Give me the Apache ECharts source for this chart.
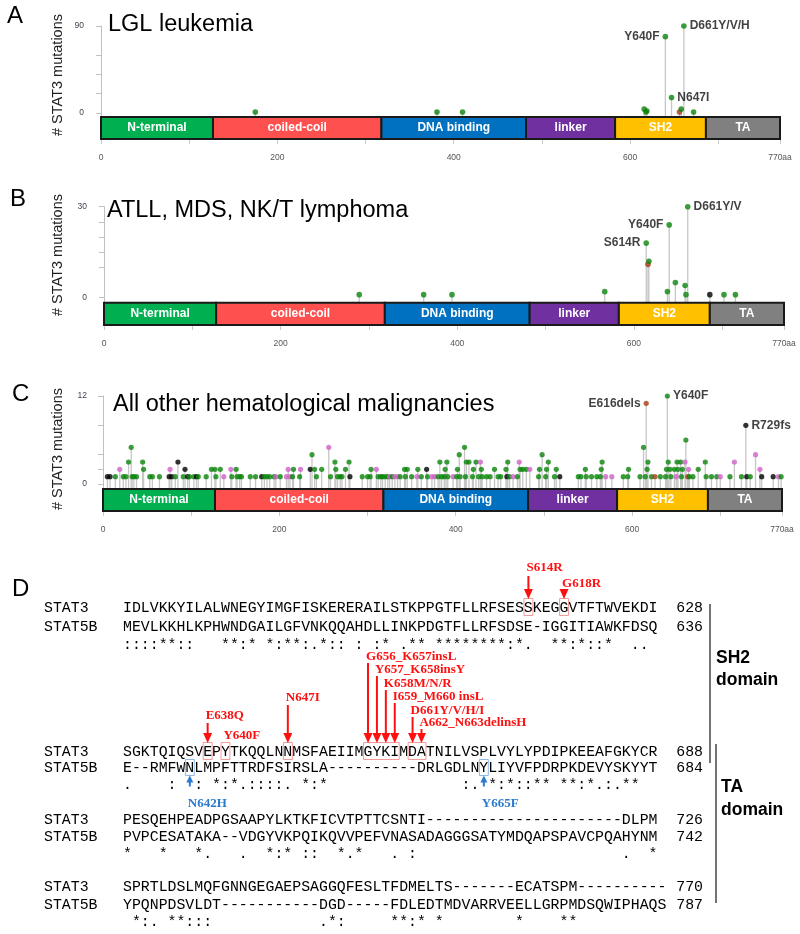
<!DOCTYPE html>
<html>
<head>
<meta charset="utf-8">
<title>STAT3 mutations</title>
<script src="https://cdn.jsdelivr.net/npm/echarts@6/dist/echarts.min.js"></script>
<style>
  html, body { margin: 0; padding: 0; background: #fff; }
  #chart { width: 800px; height: 934px; }
</style>
</head>
<body>
<div id="chart"></div>
<script>
// STAT3 protein domains (aa)
const domainNames = ["N-terminal", "coiled-coil", "DNA binding", "linker", "SH2", "TA"];
const domainStart = [0, 127, 318, 482, 583, 686];
const domainEnd = [127, 318, 482, 583, 686, 770];
const domainColors = ["#00b050", "#ff5050", "#0070c0", "#7030a0", "#ffc000", "#808080"];

// mutation classes: M missense, T truncating, I inframe, O other
const typeColors = { M: "#0a840a", T: "#000000", I: "#a83c16", O: "#d062c8" };

// panel A: LGL leukemia  [position, count, class]
const lglMutations = [
  [175, 1, "M"], [381, 1, "M"], [410, 1, "M"], [616, 4, "M"], [618, 1, "M"], [619, 2, "M"],
  [640, 79, "M"], [647, 16, "M"], [656, 1, "I"], [658, 4, "M"], [661, 90, "M"], [672, 1, "M"]
];
const lglLabels = [[640, "Y640F", "left"], [661, "D661Y/V/H", "right"], [647, "N647I", "right"]];

// panel B: ATLL, MDS, NK/T lymphoma
const atllMutations = [
  [289, 1, "M"], [362, 1, "M"], [394, 1, "M"], [567, 2, "M"], [614, 18, "M"], [616, 11, "I"],
  [617, 12, "M"], [638, 2, "M"], [640, 24, "M"], [647, 5, "M"], [658, 4, "M"], [659, 1, "M"],
  [661, 30, "M"], [686, 1, "T"], [702, 1, "M"], [715, 1, "M"]
];
const atllLabels = [[614, "S614R", "left"], [640, "Y640F", "left"], [661, "D661Y/V", "right"]];

// panel C: all other hematological malignancies
const otherMutations = [
  [5, 1, "T"], [8, 1, "T"], [14, 1, "M"], [23, 1, "M"], [26, 1, "M"], [33, 1, "M"], [35, 1, "M"], [38, 1, "M"],
  [53, 1, "M"], [56, 1, "M"], [64, 1, "M"], [75, 1, "T"], [78, 1, "T"], [82, 1, "M"], [91, 1, "M"], [96, 1, "T"],
  [98, 1, "M"], [103, 1, "M"], [106, 1, "T"], [108, 1, "M"], [117, 1, "M"], [128, 1, "M"], [137, 1, "O"],
  [146, 1, "M"], [152, 1, "M"], [155, 1, "M"], [157, 1, "M"], [167, 1, "M"], [173, 1, "M"], [180, 1, "T"],
  [183, 1, "M"], [186, 1, "M"], [189, 1, "M"], [194, 1, "M"], [196, 1, "O"], [201, 1, "M"], [208, 1, "O"],
  [212, 1, "O"], [215, 1, "M"], [223, 1, "M"], [242, 1, "M"], [258, 1, "M"], [266, 1, "M"], [269, 1, "M"],
  [271, 1, "M"], [280, 1, "T"], [294, 1, "M"], [300, 1, "M"], [303, 1, "M"], [312, 1, "M"], [315, 1, "M"],
  [317, 1, "M"], [320, 1, "M"], [323, 1, "M"], [325, 1, "O"], [328, 1, "M"], [331, 1, "O"], [334, 1, "O"],
  [337, 1, "M"], [343, 1, "M"], [350, 1, "M"], [356, 1, "O"], [361, 1, "M"], [368, 1, "M"], [373, 1, "O"],
  [376, 1, "O"], [380, 1, "M"], [384, 1, "M"], [387, 1, "M"], [391, 1, "M"], [397, 1, "O"], [401, 1, "M"],
  [405, 1, "M"], [411, 1, "M"], [419, 1, "M"], [426, 1, "M"], [430, 1, "M"], [435, 1, "M"], [439, 1, "M"],
  [448, 1, "M"], [451, 1, "M"], [458, 1, "T"], [461, 1, "M"], [465, 1, "O"], [470, 1, "M"], [494, 1, "M"],
  [502, 1, "M"], [512, 1, "M"], [518, 1, "T"], [539, 1, "M"], [542, 1, "M"], [548, 1, "M"], [554, 1, "M"],
  [560, 1, "M"], [564, 1, "M"], [570, 1, "O"], [577, 1, "O"], [590, 1, "M"], [595, 1, "M"], [609, 1, "M"],
  [615, 1, "M"], [622, 1, "M"], [626, 1, "I"], [632, 1, "M"], [638, 1, "M"], [644, 1, "M"], [650, 1, "O"],
  [656, 1, "M"], [663, 1, "I"], [665, 1, "M"], [669, 1, "M"], [684, 1, "M"], [690, 1, "M"], [696, 1, "M"],
  [700, 1, "O"], [711, 1, "M"], [724, 1, "M"], [730, 1, "T"], [734, 1, "M"], [747, 1, "T"], [760, 1, "T"],
  [766, 1, "O"], [769, 1, "M"],
  [19, 2, "O"], [46, 2, "M"], [76, 2, "O"], [93, 2, "T"], [123, 2, "M"], [127, 2, "M"], [133, 2, "M"],
  [145, 2, "O"], [151, 2, "M"], [210, 2, "O"], [216, 2, "M"], [224, 2, "O"], [235, 2, "T"], [240, 2, "M"],
  [248, 2, "M"], [264, 2, "M"], [275, 2, "M"], [304, 2, "M"], [310, 2, "O"], [342, 2, "M"], [345, 2, "M"],
  [357, 2, "M"], [367, 2, "T"], [388, 2, "M"], [402, 2, "M"], [420, 2, "M"], [429, 2, "M"], [444, 2, "M"],
  [457, 2, "M"], [473, 2, "M"], [476, 2, "M"], [480, 2, "M"], [484, 2, "O"], [495, 2, "M"], [503, 2, "M"],
  [514, 2, "M"], [547, 2, "M"], [565, 2, "M"], [596, 2, "M"], [617, 2, "M"], [639, 2, "M"], [643, 2, "M"],
  [648, 2, "M"], [652, 2, "M"], [657, 2, "M"], [664, 2, "O"], [675, 2, "M"], [745, 2, "O"],
  [29, 3, "M"], [45, 3, "M"], [85, 3, "T"], [263, 3, "M"], [279, 3, "M"], [382, 3, "M"], [390, 3, "M"],
  [412, 3, "M"], [415, 3, "M"], [423, 3, "M"], [428, 3, "O"], [459, 3, "M"], [472, 3, "O"], [505, 3, "M"],
  [566, 3, "M"], [618, 3, "M"], [641, 3, "M"], [651, 3, "M"], [655, 3, "M"], [660, 3, "O"], [683, 3, "M"],
  [716, 3, "O"],
  [237, 4, "M"], [404, 4, "M"], [498, 4, "M"], [740, 4, "O"],
  [32, 5, "M"], [256, 5, "O"], [410, 5, "M"], [613, 5, "M"],
  [661, 6, "M"], [729, 8, "T"], [616, 11, "I"], [640, 12, "M"]
];
const otherLabels = [[616, "E616dels", "left"], [640, "Y640F", "right"], [729, "R729fs", "right"]];

// panel D: STAT3 / STAT5B alignment (4 blocks)
const seqStat3 = [
  "IDLVKKYILALWNEGYIMGFISKERERAILSTKPPGTFLLRFSESSKEGGVTFTWVEKDI",
  "SGKTQIQSVEPYTKQQLNNMSFAEIIMGYKIMDATNILVSPLVYLYPDIPKEEAFGKYCR",
  "PESQEHPEADPGSAAPYLKTKFICVTPTTCSNTI----------------------DLPM",
  "SPRTLDSLMQFGNNGEGAEPSAGGQFESLTFDMELTS-------ECATSPM----------"
];
const seqStat5b = [
  "MEVLKKHLKPHWNDGAILGFVNKQQAHDLLINKPDGTFLLRFSDSE-IGGITIAWKFDSQ",
  "E--RMFWNLMPFTTRDFSIRSLA----------DRLGDLNYLIYVFPDRPKDEVYSKYYT",
  "PVPCESATAKA--VDGYVKPQIKQVVPEFVNASADAGGGSATYMDQAPSPAVCPQAHYNM",
  "YPQNPDSVLDT-----------DGD-----FDLEDTMDVARRVEELLGRPMDSQWIPHAQS"
];
const seqConsensus = [
  "::::**::   **:* *:**:.*:: : :* .** ********:*.  **:*::*  ..",
  ".    :  : *:*.::::. *:*               :. *:*::** **:*.:.**",
  "*   *   *.   .  *:* ::  *.*   . :                       .  *",
  " *:. **:::            .*:     **:* *        *    **"
];
const endStat3 = [628, 688, 726, 770];
const endStat5b = [636, 684, 742, 787];

// annotated residues: [label, block, column]
const stat3Hits = [
  ["S614R", 0, 46], ["G618R", 0, 50],
  ["E638Q", 1, 10], ["Y640F", 1, 12], ["N647I", 1, 19], ["G656_K657insL", 1, 28],
  ["Y657_K658insY", 1, 29], ["K658M/N/R", 1, 30], ["I659_M660 insL", 1, 31],
  ["D661Y/V/H/I", 1, 33], ["A662_N663delinsH", 1, 34]
];
const stat3Boxes = [[0, 46, 46], [0, 50, 50], [1, 10, 10], [1, 12, 12], [1, 19, 19], [1, 28, 31], [1, 33, 34]];
const stat5bHits = [["N642H", 1, 8], ["Y665F", 1, 41]];

// ---------- layout ----------
const SANS = '"Liberation Sans", Arial, sans-serif';
const panels = [
  { muts: lglMutations, labels: lglLabels, yMax: 90, yTicks: [0, 20, 40, 60, 90],
    left: 101, width: 679, top: 26, zeroY: 113, barTop: 117, barBottom: 139, axisOff: 9 },
  { muts: atllMutations, labels: atllLabels, yMax: 30, yTicks: [0, 10, 15, 20, 25, 30],
    left: 104, width: 680, top: 206.7, zeroY: 297.7, barTop: 302.7, barBottom: 325, axisOff: 9 },
  { muts: otherMutations, labels: otherLabels, yMax: 12, yTicks: [0, 2, 4, 8, 12],
    left: 103, width: 679, top: 396, zeroY: 484, barTop: 489, barBottom: 511, axisOff: 8 }
];
// label y for each annotation, arrow start (null = no arrow)
const hitLabelY = [568, 584, 716, 736, 698, 657, 670, 684, 697, 711, 723];
const hitArrowTop = [576, 591, 723, null, 705, 663, 676, 690, 703, 717, 729];
const blockRowY = [[608, 627, 645.5], [752, 768.5, 785.5], [820, 837, 854], [887, 905, 922.5]];

const grids = [], xAxes = [], yAxes = [], series = [];

panels.forEach((p, i) => {
  const yMin = -(p.barTop - p.zeroY) * p.yMax / (p.zeroY - p.top);
  const gl = i * 2, gd = i * 2 + 1;
  grids.push({ left: p.left, width: p.width, top: p.top, height: p.barTop - p.top });
  grids.push({ left: p.left, width: p.width, top: p.barTop, height: p.barBottom - p.barTop });

  xAxes.push({ gridIndex: gl, type: "value", min: 0, max: 770, show: false });
  xAxes.push({
    gridIndex: gd, type: "value", min: 0, max: 770, interval: 100, position: "bottom", offset: 6,
    axisLine: { lineStyle: { color: "#c8c8c8", width: 1 } },
    axisTick: { length: 5, lineStyle: { color: "#c8c8c8" } },
    axisLabel: {
      margin: 8, fontSize: 8.5, color: "#555", fontFamily: SANS,
      formatter: (v) => (v === 770 ? "770aa" : v % 200 === 0 ? String(v) : "")
    },
    splitLine: { show: false }
  });

  yAxes.push({
    gridIndex: gl, type: "value", min: yMin, max: p.yMax, position: "left", offset: p.axisOff,
    axisLine: { show: true, lineStyle: { color: "#c0c0c0" } },
    axisTick: { show: true, length: 5, customValues: p.yTicks, lineStyle: { color: "#c0c0c0" } },
    axisLabel: { customValues: [0, p.yMax], margin: 8, fontSize: 8.5, color: "#445", fontFamily: SANS },
    splitLine: { show: false }
  });
  yAxes.push({ gridIndex: gd, type: "value", min: 0, max: 1, show: false });

  // stems
  series.push({
    type: "custom", xAxisIndex: gl, yAxisIndex: gl, silent: true, z: 1, clip: false,
    data: p.muts.map((m) => [m[0], m[1]]),
    renderItem: (params, api) => {
      const top = api.coord([api.value(0), api.value(1)]);
      const base = api.coord([api.value(0), yMin]);
      return { type: "line", shape: { x1: top[0], y1: top[1], x2: base[0], y2: base[1] },
        style: { stroke: "#c6c6c6", lineWidth: 1.3 } };
    }
  });

  // heads
  series.push({
    type: "scatter", xAxisIndex: gl, yAxisIndex: gl, silent: true, z: 3, clip: false,
    symbolSize: i === 2 ? 5.2 : 5.6,
    data: p.muts.map((m) => {
      const lab = p.labels.find((l) => l[0] === m[0] && m[1] > 3);
      const item = { value: [m[0], m[1]], itemStyle: { color: typeColors[m[2]] } };
      if (lab) {
        item.label = { show: true, position: lab[2], distance: 3, formatter: lab[1],
          fontSize: 12, fontWeight: "bold", color: "#111", fontFamily: SANS };
      }
      return item;
    })
  });

  // domain bar
  series.push({
    type: "custom", xAxisIndex: gd, yAxisIndex: gd, silent: true, z: 2,
    data: domainNames.map((n, k) => [domainStart[k], domainEnd[k], k]),
    renderItem: (params, api) => {
      const k = api.value(2);
      const a = api.coord([api.value(0), 1]);
      const b = api.coord([api.value(1), 0]);
      return {
        type: "rect",
        shape: { x: a[0], y: a[1], width: b[0] - a[0], height: b[1] - a[1] },
        style: { fill: domainColors[k], stroke: "#1a1a1a", lineWidth: 2 },
        textContent: { style: { text: domainNames[k], fill: "#fff", font: "bold 12px " + SANS } },
        textConfig: { position: "inside" }
      };
    }
  });
});

// ---------- text and panel D ----------
function txt(text, x, y, font, fill, align) {
  return { type: "text", x: x, y: y, silent: true,
    style: { text: String(text), font: font, fill: fill || "#000", align: align || "left", verticalAlign: "middle" } };
}
const graphics = [];
[["A", 7, 16.5], ["B", 10, 199.5], ["C", 12, 394.5], ["D", 12, 589]].forEach((l) =>
  graphics.push(txt(l[0], l[1], l[2], "24px " + SANS)));
[["LGL leukemia", 108, 25], ["ATLL, MDS, NK/T lymphoma", 107, 211], ["All other hematological malignancies", 113, 405]]
  .forEach((t) => graphics.push(txt(t[0], t[1], t[2], "23.5px " + SANS)));
[[57.5, 75], [58, 255], [57.5, 449]].forEach((c) => {
  const e = txt("# STAT3 mutations", c[0], c[1], "14.5px " + SANS, "#222", "center");
  e.rotation = Math.PI / 2;
  graphics.push(e);
});

const MONO = '14.85px "Liberation Mono", "Courier New", monospace';
const SERIF = 'bold 13px "Liberation Serif", "Times New Roman", serif';
const colW = 8.91, seqX = 123;
const colX = (c) => seqX + (c - 0.5) * colW;
const RED = "#ff1010", BLUE = "#2b7bd0";

seqStat3.forEach((s, b) => {
  const r = blockRowY[b];
  graphics.push(txt("STAT3", 44, r[0], MONO));
  graphics.push(txt(s, seqX, r[0], MONO));
  graphics.push(txt(endStat3[b], 703, r[0], MONO, "#000", "right"));
  graphics.push(txt("STAT5B", 44, r[1], MONO));
  graphics.push(txt(seqStat5b[b], seqX, r[1], MONO));
  graphics.push(txt(endStat5b[b], 703, r[1], MONO, "#000", "right"));
  graphics.push(txt(seqConsensus[b], seqX, r[2], MONO));
});

stat3Boxes.forEach((bx) => {
  const y = blockRowY[bx[0]][0];
  graphics.push({ type: "rect", silent: true,
    shape: { x: seqX + (bx[1] - 1) * colW, y: y - 9.5, width: (bx[2] - bx[1] + 1) * colW, height: 17 },
    style: { fill: "none", stroke: "#f39a9a", lineWidth: 1 } });
});

function arrowDown(x, y0, tip, color) {
  graphics.push({ type: "line", silent: true, shape: { x1: x, y1: y0, x2: x, y2: tip - 8 },
    style: { stroke: color, lineWidth: 2 } });
  graphics.push({ type: "polygon", silent: true,
    shape: { points: [[x - 4.5, tip - 10], [x + 4.5, tip - 10], [x, tip]] }, style: { fill: color } });
}

stat3Hits.forEach((h, k) => {
  const x = colX(h[2]);
  const tip = blockRowY[h[1]][0] - 9;
  graphics.push(txt(h[0], x - 2, hitLabelY[k], SERIF, RED));
  if (hitArrowTop[k] !== null) arrowDown(x, hitArrowTop[k], tip, RED);
});

stat5bHits.forEach((h) => {
  const x = colX(h[2]);
  const y = blockRowY[h[1]][1];
  graphics.push({ type: "rect", silent: true,
    shape: { x: seqX + (h[2] - 1) * colW, y: y - 9, width: colW, height: 16 },
    style: { fill: "none", stroke: "#8dbbe6", lineWidth: 1 } });
  const tip = y + 7;
  graphics.push({ type: "polygon", silent: true,
    shape: { points: [[x - 3.5, tip + 7], [x + 3.5, tip + 7], [x, tip]] }, style: { fill: BLUE } });
  graphics.push({ type: "line", silent: true, shape: { x1: x, y1: tip + 6, x2: x, y2: tip + 11 },
    style: { stroke: BLUE, lineWidth: 2 } });
  graphics.push(txt(h[0], x - 2, y + 35.5, SERIF, BLUE));
});

// domain brackets on the right
graphics.push({ type: "line", silent: true, shape: { x1: 710, y1: 604, x2: 710, y2: 763 }, style: { stroke: "#444", lineWidth: 1.5 } });
graphics.push({ type: "line", silent: true, shape: { x1: 716, y1: 744, x2: 716, y2: 903 }, style: { stroke: "#444", lineWidth: 1.5 } });
const BOLD18 = "bold 17.5px " + SANS;
graphics.push(txt("SH2", 716, 658, BOLD18));
graphics.push(txt("domain", 716, 680, BOLD18));
graphics.push(txt("TA", 721, 787, BOLD18));
graphics.push(txt("domain", 721, 810, BOLD18));

const chart = echarts.init(document.getElementById("chart"), null, { renderer: "canvas" });
chart.setOption({
  animation: false,
  backgroundColor: "#fff",
  grid: grids,
  xAxis: xAxes,
  yAxis: yAxes,
  series: series,
  graphic: { elements: graphics }
});
</script>
</body>
</html>
